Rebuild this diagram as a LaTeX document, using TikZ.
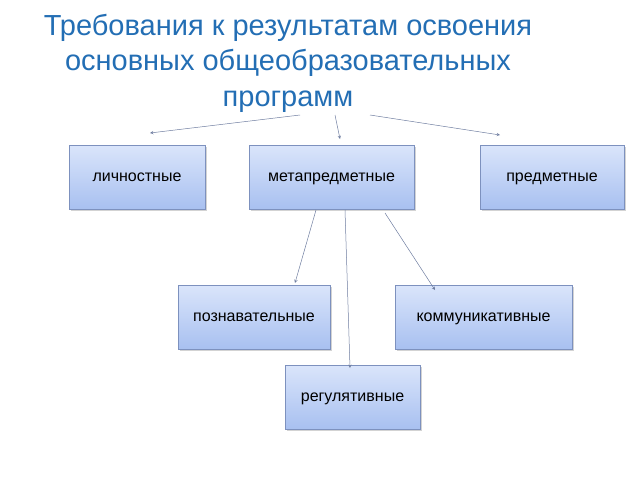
\documentclass[tikz,border=0pt]{standalone}
\usepackage{fontspec}
\setmainfont{Liberation Sans}
\usetikzlibrary{shadows}
\definecolor{titleblue}{RGB}{35,110,180}
\definecolor{boxtop}{RGB}{218,229,251}
\definecolor{boxbot}{RGB}{168,192,240}
\definecolor{boxline}{RGB}{125,145,190}
\definecolor{arrowgray}{RGB}{110,125,160}
\begin{document}
\begin{tikzpicture}
[   x=1pt,y=-1pt,
    rbox/.style={draw=boxline,line width=0.6pt,top color=boxtop,bottom color=boxbot,
        minimum width=#1,minimum height=64pt,inner sep=0pt,text height=11pt,text depth=3pt,
        font=\fontsize{16}{18}\selectfont,
        drop shadow={shadow xshift=1.5pt,shadow yshift=-1.5pt,opacity=0.35}},
    conn/.style={draw=arrowgray,line width=0.5pt,->,>=stealth},
]
\useasboundingbox (0,0) rectangle (640,480);
%%%%%%%%%%%%%%%%%%%% TITLE %%%%%%%%%%%%%%%%%%%%%%%%%%%%%%%%%%%
    \node[text=titleblue,align=center,font=\fontsize{29}{35.5}\selectfont] (title) at (288,63)
        {Требования к результатам освоения\\основных общеобразовательных\\программ};

%%%%%%%%%%%%%%%%%%%% FIRST ROW %%%%%%%%%%%%%%%%%%%%%%%%%%%%%%%%%%%
    \node[rbox=136pt] (lich) at (137,177) {личностные};
    \node[rbox=165pt] (meta) at (331.5,177) {метапредметные};
    \node[rbox=144pt] (pred) at (552,177) {предметные};

    \coordinate (t1) at (300,115);
    \coordinate (t2) at (335,115);
    \coordinate (t3) at (370,115);
    \coordinate (e1) at (150,133);
    \coordinate (e2) at (340,139);
    \coordinate (e3) at (500,135);
    \draw[conn] (t1) -- (e1);
    \draw[conn] (t2) -- (e2);
    \draw[conn] (t3) -- (e3);

%%%%%%%%%%%%%%%%%%%% SECOND ROW %%%%%%%%%%%%%%%%%%%%%%%%%%%%%%%%%%%
    \node[rbox=152pt] (pozn) at (254,317) {познавательные};
    \node[rbox=177pt] (komm) at (483.5,317) {коммуникативные};
    \node[rbox=135pt] (reg) at (352.5,397) {регулятивные};

    \coordinate (m1) at (316,210);
    \coordinate (m2) at (345,210);
    \coordinate (m3) at (385,213);
    \coordinate (p1) at (295,283);
    \coordinate (p2) at (350,368);
    \coordinate (p3) at (435,290);
    \draw[conn] (m1) -- (p1);
    \draw[conn] (m2) -- (p2);
    \draw[conn] (m3) -- (p3);

\end{tikzpicture}
\end{document}
